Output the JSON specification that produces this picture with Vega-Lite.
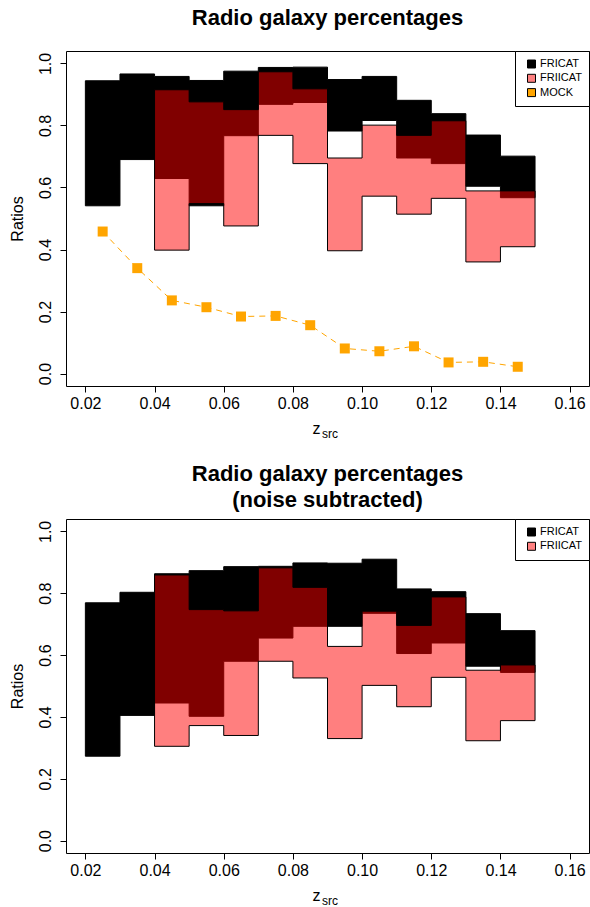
{
  "$schema": "https://vega.github.io/schema/vega-lite/v6.json",
  "padding": {"left": 8, "top": 6, "right": 0, "bottom": 0},
  "spacing": 22,
  "datasets": {
    "top_fri": [
      {"cat": "FRICAT", "z": 0.02, "lo": 0.541, "hi": 0.944},
      {"cat": "FRICAT", "z": 0.03, "lo": 0.690, "hi": 0.966},
      {"cat": "FRICAT", "z": 0.04, "lo": 0.629, "hi": 0.958},
      {"cat": "FRICAT", "z": 0.05, "lo": 0.541, "hi": 0.945},
      {"cat": "FRICAT", "z": 0.06, "lo": 0.767, "hi": 0.975},
      {"cat": "FRICAT", "z": 0.07, "lo": 0.868, "hi": 0.987},
      {"cat": "FRICAT", "z": 0.08, "lo": 0.874, "hi": 0.988},
      {"cat": "FRICAT", "z": 0.09, "lo": 0.782, "hi": 0.948},
      {"cat": "FRICAT", "z": 0.10, "lo": 0.816, "hi": 0.958},
      {"cat": "FRICAT", "z": 0.11, "lo": 0.695, "hi": 0.881},
      {"cat": "FRICAT", "z": 0.12, "lo": 0.677, "hi": 0.838},
      {"cat": "FRICAT", "z": 0.13, "lo": 0.604, "hi": 0.769},
      {"cat": "FRICAT", "z": 0.14, "lo": 0.567, "hi": 0.701},
      {"cat": "FRICAT", "z": 0.15, "lo": 0.567, "hi": 0.701}
    ],
    "top_frii": [
      {"cat": "FRIICAT", "z": 0.04, "lo": 0.398, "hi": 0.915},
      {"cat": "FRIICAT", "z": 0.05, "lo": 0.548, "hi": 0.876},
      {"cat": "FRIICAT", "z": 0.06, "lo": 0.476, "hi": 0.851},
      {"cat": "FRIICAT", "z": 0.07, "lo": 0.768, "hi": 0.973},
      {"cat": "FRIICAT", "z": 0.08, "lo": 0.677, "hi": 0.918},
      {"cat": "FRIICAT", "z": 0.09, "lo": 0.396, "hi": 0.695},
      {"cat": "FRIICAT", "z": 0.10, "lo": 0.572, "hi": 0.801},
      {"cat": "FRIICAT", "z": 0.11, "lo": 0.514, "hi": 0.768},
      {"cat": "FRIICAT", "z": 0.12, "lo": 0.565, "hi": 0.815},
      {"cat": "FRIICAT", "z": 0.13, "lo": 0.360, "hi": 0.589},
      {"cat": "FRIICAT", "z": 0.14, "lo": 0.409, "hi": 0.589},
      {"cat": "FRIICAT", "z": 0.15, "lo": 0.409, "hi": 0.589}
    ],
    "mock": [
      {"cat": "MOCK", "z": 0.025, "v": 0.458},
      {"cat": "MOCK", "z": 0.035, "v": 0.340},
      {"cat": "MOCK", "z": 0.045, "v": 0.236},
      {"cat": "MOCK", "z": 0.055, "v": 0.214},
      {"cat": "MOCK", "z": 0.065, "v": 0.184},
      {"cat": "MOCK", "z": 0.075, "v": 0.186},
      {"cat": "MOCK", "z": 0.085, "v": 0.156},
      {"cat": "MOCK", "z": 0.095, "v": 0.081},
      {"cat": "MOCK", "z": 0.105, "v": 0.072},
      {"cat": "MOCK", "z": 0.115, "v": 0.088},
      {"cat": "MOCK", "z": 0.125, "v": 0.036},
      {"cat": "MOCK", "z": 0.135, "v": 0.038},
      {"cat": "MOCK", "z": 0.145, "v": 0.022}
    ],
    "bot_fri": [
      {"cat": "FRICAT", "z": 0.02, "lo": 0.273, "hi": 0.769},
      {"cat": "FRICAT", "z": 0.03, "lo": 0.405, "hi": 0.803},
      {"cat": "FRICAT", "z": 0.04, "lo": 0.445, "hi": 0.863},
      {"cat": "FRICAT", "z": 0.05, "lo": 0.402, "hi": 0.873},
      {"cat": "FRICAT", "z": 0.06, "lo": 0.580, "hi": 0.886},
      {"cat": "FRICAT", "z": 0.07, "lo": 0.655, "hi": 0.887},
      {"cat": "FRICAT", "z": 0.08, "lo": 0.693, "hi": 0.898},
      {"cat": "FRICAT", "z": 0.09, "lo": 0.693, "hi": 0.897},
      {"cat": "FRICAT", "z": 0.10, "lo": 0.735, "hi": 0.910},
      {"cat": "FRICAT", "z": 0.11, "lo": 0.605, "hi": 0.814},
      {"cat": "FRICAT", "z": 0.12, "lo": 0.639, "hi": 0.805},
      {"cat": "FRICAT", "z": 0.13, "lo": 0.564, "hi": 0.734},
      {"cat": "FRICAT", "z": 0.14, "lo": 0.544, "hi": 0.679},
      {"cat": "FRICAT", "z": 0.15, "lo": 0.544, "hi": 0.679}
    ],
    "bot_frii": [
      {"cat": "FRIICAT", "z": 0.04, "lo": 0.305, "hi": 0.859},
      {"cat": "FRIICAT", "z": 0.05, "lo": 0.372, "hi": 0.747},
      {"cat": "FRIICAT", "z": 0.06, "lo": 0.340, "hi": 0.743},
      {"cat": "FRIICAT", "z": 0.07, "lo": 0.580, "hi": 0.882},
      {"cat": "FRIICAT", "z": 0.08, "lo": 0.526, "hi": 0.819},
      {"cat": "FRIICAT", "z": 0.09, "lo": 0.330, "hi": 0.628},
      {"cat": "FRIICAT", "z": 0.10, "lo": 0.502, "hi": 0.742},
      {"cat": "FRIICAT", "z": 0.11, "lo": 0.433, "hi": 0.696},
      {"cat": "FRIICAT", "z": 0.12, "lo": 0.528, "hi": 0.788},
      {"cat": "FRIICAT", "z": 0.13, "lo": 0.323, "hi": 0.551},
      {"cat": "FRIICAT", "z": 0.14, "lo": 0.388, "hi": 0.568},
      {"cat": "FRIICAT", "z": 0.15, "lo": 0.388, "hi": 0.568}
    ]
  },
  "resolve": {"scale": {"fill": "independent"}, "legend": {"fill": "independent"}},
  "vconcat": [
    {
      "width": 523,
      "height": 335,
      "title": {"text": "Radio galaxy percentages", "fontSize": 22, "fontWeight": "bold", "anchor": "middle", "frame": "group", "baseline": "bottom", "offset": -1},
      "resolve": {"axis": {"x": "independent"}},
      "layer": [
        {
          "data": {"name": "top_fri"},
          "mark": {"type": "area", "interpolate": "step-after", "stroke": "black", "strokeWidth": 1},
          "encoding": {
            "x": {"field": "z", "type": "quantitative", "scale": {"domain": [0.0144, 0.1656], "nice": false, "zero": false},
                  "axis": {"orient": "bottom", "values": [0.02, 0.04, 0.06, 0.08, 0.10, 0.12, 0.14, 0.16], "format": ".2f", "title": "z", "titleX": 246, "titleY": 47.6, "titleAlign": "left", "titleBaseline": "alphabetic", "labelPadding": 3}},
            "y": {"field": "lo", "type": "quantitative", "scale": {"domain": [-0.04, 1.04], "nice": false, "zero": false},
                  "axis": {"values": [0, 0.2, 0.4, 0.6, 0.8, 1.0], "format": ".1f", "title": "Ratios", "labelAngle": -90, "labelPadding": 7, "titlePadding": 12}},
            "y2": {"field": "hi"},
            "fill": {"field": "cat", "type": "nominal", "scale": {"domain": ["FRICAT", "FRIICAT", "MOCK"], "range": ["black", "#FF8080", "orange"]},
                     "legend": {"orient": "top-right", "offset": 0, "title": null, "symbolType": "square", "symbolSize": 64, "symbolStrokeColor": "black", "symbolStrokeWidth": 1, "symbolOpacity": 1, "symbolOffset": 4, "labelFontSize": 11, "padding": 7, "rowPadding": 2.3, "clipHeight": 12, "strokeColor": "black", "fillColor": "white", "labelOffset": 3}}
          }
        },
        {
          "data": {"name": "top_frii"},
          "mark": {"type": "area", "interpolate": "step-after", "stroke": "black", "strokeWidth": 1, "fill": "red", "fillOpacity": 0.5},
          "encoding": {
            "x": {"field": "z", "type": "quantitative",
                  "axis": {"orient": "bottom", "title": "src", "labels": false, "ticks": false, "domain": false, "titleFontSize": 12, "titleX": 255.5, "titleY": 51, "titleAlign": "left", "titleBaseline": "alphabetic"}},
            "y": {"field": "lo", "type": "quantitative"},
            "y2": {"field": "hi"}
          }
        },
        {
          "data": {"name": "mock"},
          "mark": {"type": "line", "stroke": "#FFA500", "strokeWidth": 1, "strokeDash": [6, 5]},
          "encoding": {
            "x": {"field": "z", "type": "quantitative", "axis": null},
            "y": {"field": "v", "type": "quantitative"}
          }
        },
        {
          "data": {"name": "mock"},
          "mark": {"type": "point", "shape": "square", "filled": true, "size": 100, "opacity": 1},
          "encoding": {
            "x": {"field": "z", "type": "quantitative", "axis": null},
            "y": {"field": "v", "type": "quantitative"},
            "fill": {"field": "cat", "type": "nominal"}
          }
        }
      ]
    },
    {
      "width": 523,
      "height": 334,
      "title": {"text": ["Radio galaxy percentages", "(noise subtracted)"], "fontSize": 22, "fontWeight": "bold", "anchor": "middle", "frame": "group", "baseline": "bottom", "offset": -15, "lineHeight": 26},
      "resolve": {"axis": {"x": "independent"}},
      "layer": [
        {
          "data": {"name": "bot_fri"},
          "mark": {"type": "area", "interpolate": "step-after", "stroke": "black", "strokeWidth": 1},
          "encoding": {
            "x": {"field": "z", "type": "quantitative", "scale": {"domain": [0.0144, 0.1656], "nice": false, "zero": false},
                  "axis": {"orient": "bottom", "values": [0.02, 0.04, 0.06, 0.08, 0.10, 0.12, 0.14, 0.16], "format": ".2f", "title": "z", "titleX": 246, "titleY": 47.6, "titleAlign": "left", "titleBaseline": "alphabetic", "labelPadding": 3}},
            "y": {"field": "lo", "type": "quantitative", "scale": {"domain": [-0.04, 1.04], "nice": false, "zero": false},
                  "axis": {"values": [0, 0.2, 0.4, 0.6, 0.8, 1.0], "format": ".1f", "title": "Ratios", "labelAngle": -90, "labelPadding": 7, "titlePadding": 12}},
            "y2": {"field": "hi"},
            "fill": {"field": "cat", "type": "nominal", "scale": {"domain": ["FRICAT", "FRIICAT"], "range": ["black", "#FF8080"]},
                     "legend": {"orient": "top-right", "offset": 0, "title": null, "symbolType": "square", "symbolSize": 64, "symbolStrokeColor": "black", "symbolStrokeWidth": 1, "symbolOpacity": 1, "symbolOffset": 4, "labelFontSize": 11, "padding": 7, "rowPadding": 2.3, "clipHeight": 12, "strokeColor": "black", "fillColor": "white", "labelOffset": 3}}
          }
        },
        {
          "data": {"name": "bot_frii"},
          "mark": {"type": "area", "interpolate": "step-after", "stroke": "black", "strokeWidth": 1, "fill": "red", "fillOpacity": 0.5},
          "encoding": {
            "x": {"field": "z", "type": "quantitative",
                  "axis": {"orient": "bottom", "title": "src", "labels": false, "ticks": false, "domain": false, "titleFontSize": 12, "titleX": 255.5, "titleY": 51, "titleAlign": "left", "titleBaseline": "alphabetic"}},
            "y": {"field": "lo", "type": "quantitative"},
            "y2": {"field": "hi"}
          }
        }
      ]
    }
  ],
  "config": {
    "font": "Liberation Sans",
    "view": {"stroke": "black", "strokeWidth": 1},
    "axis": {"domain": false, "grid": false, "tickColor": "black", "tickSize": 6, "tickWidth": 1, "labelFontSize": 16, "labelColor": "black", "titleFontSize": 16, "titleFontWeight": "normal", "titleColor": "black"},
    "legend": {"labelColor": "black"},
    "title": {"color": "black"}
  }
}
